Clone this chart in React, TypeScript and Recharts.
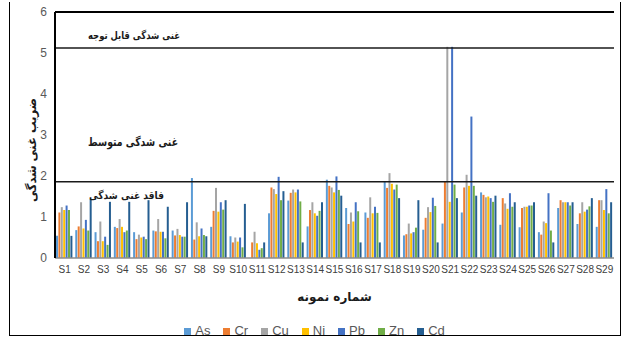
import {
  BarChart,
  Bar,
  XAxis,
  YAxis,
  Legend,
  ReferenceLine,
} from "recharts";

const samples = [
  "S1", "S2", "S3", "S4", "S5", "S6", "S7", "S8", "S9", "S10",
  "S11", "S12", "S13", "S14", "S15", "S16", "S17", "S18", "S19", "S20",
  "S21", "S22", "S23", "S24", "S25", "S26", "S27", "S28", "S29",
];

const asValues = [0.54, 0.68, 0.63, 0.76, 0.63, 0.67, 0.67, 1.95, 0.76, 0.53, 0, 1.09, 1.4, 0.77, 1.91, 1.22, 1.11, 1.86, 0.55, 0.69, 0.84, 1.11, 1.6, 0.81, 0.75, 0.63, 1.22, 0.83, 0.76];
const crValues = [1.11, 0.77, 0.41, 0.73, 0.46, 0.65, 0.55, 0.45, 1.15, 0.38, 0.38, 1.72, 1.59, 1.17, 1.76, 0.83, 0.98, 1.71, 0.58, 0.98, 1.86, 1.72, 1.54, 1.46, 1.22, 0.57, 1.41, 1.09, 1.41];
const cuValues = [1.24, 1.36, 0.89, 0.95, 0.57, 0.95, 0.71, 0.87, 1.71, 0.5, 0.64, 1.68, 1.67, 1.36, 1.72, 1.11, 1.48, 2.07, 0.84, 1.24, 5.15, 2.03, 1.48, 1.33, 1.25, 0.89, 1.36, 1.36, 1.41];
const niValues = [1.17, 0.72, 0.41, 0.76, 0.5, 0.64, 0.56, 0.53, 1.13, 0.4, 0.36, 1.56, 1.6, 1.09, 1.6, 0.89, 1.09, 1.81, 0.6, 1.12, 1.37, 1.76, 1.5, 1.2, 1.25, 0.85, 1.36, 1.13, 1.17];
const pbValues = [1.28, 0.93, 0.52, 0.63, 0.52, 0.64, 0.52, 0.72, 1.36, 0.5, 0.2, 1.98, 1.67, 1.03, 1.99, 1.36, 1.25, 1.67, 0.63, 1.47, 5.15, 3.45, 1.46, 1.58, 1.28, 1.58, 1.36, 1.18, 1.68];
const znValues = [1.17, 0.67, 0.32, 0.67, 0.46, 0.48, 0.52, 0.56, 1.18, 0.26, 0.24, 1.41, 1.38, 1.15, 1.66, 1.14, 1.1, 1.79, 0.74, 1.27, 1.79, 1.76, 1.37, 1.25, 1.28, 0.67, 1.28, 1.26, 1.09];
const cdValues = [0.54, 1.44, 1.37, 1.37, 1.41, 1.25, 1.36, 0.53, 1.41, 1.32, 0.38, 1.63, 0.38, 1.36, 1.52, 0.38, 0.38, 1.46, 1.41, 0.38, 1.46, 1.52, 1.52, 1.36, 1.36, 0.38, 1.36, 1.46, 1.36];

const yTicks = [0, 1, 2, 3, 4, 5, 6];

// threshold lines (drawn a bit off the gridline, as in the source figure)
const highLine = 5.12;
const lowLine = 1.86;

const series = [
  { key: "As", color: "#5B9BD5" },
  { key: "Cr", color: "#ED7D31" },
  { key: "Cu", color: "#A5A5A5" },
  { key: "Ni", color: "#FFC000" },
  { key: "Pb", color: "#4472C4" },
  { key: "Zn", color: "#70AD47" },
  { key: "Cd", color: "#255E91" },
];
const seriesOrder = series.map((s) => s.key);

const data = samples.map((name, i) => ({
  name,
  As: asValues[i],
  Cr: crValues[i],
  Cu: cuValues[i],
  Ni: niValues[i],
  Pb: pbValues[i],
  Zn: znValues[i],
  Cd: cdValues[i],
}));

const faFont = "'DejaVu Sans', sans-serif";

function HighLabel(props: any) {
  const { viewBox } = props;
  return (
    <text
      x={viewBox.x + 125}
      y={viewBox.y - 9}
      textAnchor="end"
      fontFamily={faFont}
      fontSize={10.5}
      fontWeight="bold"
      fill="#1a1a1a"
      textLength={92}
      lengthAdjust="spacingAndGlyphs"
    >
      غنی شدگی قابل توجه
    </text>
  );
}

function LowLabels(props: any) {
  const { viewBox } = props;
  return (
    <g fontFamily={faFont} fontWeight="bold" fill="#1a1a1a">
      <text
        x={viewBox.x + 123}
        y={viewBox.y - 36}
        textAnchor="end"
        fontSize={11.5}
        textLength={90}
        lengthAdjust="spacingAndGlyphs"
      >
        غنی شدگی متوسط
      </text>
      <text
        x={viewBox.x + 109}
        y={viewBox.y + 17}
        textAnchor="end"
        fontSize={10.5}
        textLength={75}
        lengthAdjust="spacingAndGlyphs"
      >
        فاقد غنی شدگی
      </text>
    </g>
  );
}

function YTitle(props: any) {
  const { viewBox } = props;
  const cx = viewBox.x + 31;
  const cy = viewBox.y + viewBox.height / 2 + 15;
  return (
    <text
      x={cx}
      y={cy}
      transform={`rotate(-90 ${cx} ${cy})`}
      textAnchor="middle"
      dominantBaseline="central"
      fontFamily={faFont}
      fontSize={12.5}
      fontWeight="bold"
      fill="#1a1a1a"
      textLength={104}
      lengthAdjust="spacingAndGlyphs"
    >
      ضریب غنی شدگی
    </text>
  );
}

export default function App() {
  return (
    <div style={{ position: "absolute", left: 0, top: 0, width: 627, height: 338, background: "#fff" }}>
      <div
        style={{
          position: "absolute",
          left: 9,
          top: 2,
          width: 610,
          height: 333,
          borderLeft: "1.5px solid #000",
          borderRight: "1.5px solid #000",
          borderBottom: "1.5px solid #000",
        }}
      />
      <BarChart
        width={627}
        height={338}
        data={data}
        margin={{ top: 12, right: 13, left: 0, bottom: 15 }}
        barSize={2}
        barGap={0.4}
        style={{ position: "absolute", left: 0, top: 0 }}
      >
        <XAxis
          dataKey="name"
          interval={0}
          height={50}
          tickLine={false}
          axisLine={{ stroke: "#8c8c8c", strokeWidth: 1.5 }}
          tick={{ fontSize: 10, fill: "#404040", fontFamily: "'Liberation Sans', sans-serif" }}
          label={{
            value: "شماره نمونه",
            position: "insideBottom",
            offset: 7,
            style: { fontFamily: faFont, fontSize: 12, fontWeight: "bold", fill: "#1a1a1a" },
          }}
        />
        <YAxis
          width={55}
          domain={[0, 6]}
          ticks={yTicks}
          tickLine={false}
          axisLine={{ stroke: "#000", strokeWidth: 2 }}
          tick={{ fontSize: 12, fill: "#595959", fontFamily: "'Liberation Sans', sans-serif" }}
          label={<YTitle />}
        />
        <YAxis
          yAxisId="frame"
          orientation="right"
          width={0}
          domain={[0, 6]}
          tick={false}
          tickLine={false}
          axisLine={{ stroke: "#000", strokeWidth: 1.5 }}
        />
        <ReferenceLine y={6} stroke="#000" strokeWidth={2} />
        <ReferenceLine y={highLine} stroke="#1a1a1a" strokeWidth={1.5} label={<HighLabel />} />
        <ReferenceLine y={lowLine} stroke="#1a1a1a" strokeWidth={1.5} label={<LowLabels />} />
        {series.map((s) => (
          <Bar key={s.key} dataKey={s.key} fill={s.color} isAnimationActive={false} />
        ))}
        <Legend
          verticalAlign="bottom"
          iconType="square"
          iconSize={7}
          itemSorter={(item: any) => seriesOrder.indexOf(item.value)}
          wrapperStyle={{ bottom: 0, left: 14, fontFamily: "'Liberation Sans', sans-serif", fontSize: 13 }}
          formatter={(value: string) => (
            <span style={{ color: "#595959", paddingRight: 3 }}>{value}</span>
          )}
        />
      </BarChart>
    </div>
  );
}
